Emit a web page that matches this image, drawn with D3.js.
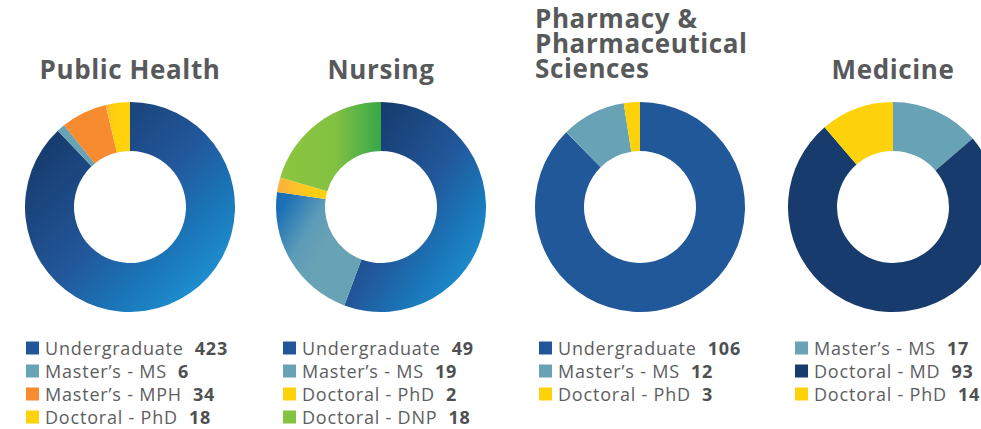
<!DOCTYPE html>
<html>
<head>
<meta charset="utf-8">
<script src="https://cdn.jsdelivr.net/npm/d3@7"></script>
<style>
  body { margin: 0; background: #fff; }
  svg { display: block; font-family: "Open Sans", sans-serif; }
</style>
</head>
<body>
<div id="chart"></div>
<script>
// data
const publicHealthLabels = ["Undergraduate", "Master\u2019s - MS", "Master\u2019s - MPH", "Doctoral - PhD"];
const publicHealthValues = [423, 6, 34, 18];

const nursingLabels = ["Undergraduate", "Master\u2019s - MS", "Doctoral - PhD", "Doctoral - DNP"];
const nursingValues = [49, 19, 2, 18];

const pharmacyLabels = ["Undergraduate", "Master\u2019s - MS", "Doctoral - PhD"];
const pharmacyValues = [106, 12, 3];

const medicineLabels = ["Master\u2019s - MS", "Doctoral - MD", "Doctoral - PhD"];
const medicineValues = [17, 93, 14];

const schoolTitles = [["Public Health"], ["Nursing"], ["Pharmacy &", "Pharmaceutical", "Sciences"], ["Medicine"]];

// colours used for the legend squares
const colorFor = {
    "Undergraduate": "#21579a",
    "Master\u2019s - MS": "#68a2b5",
    "Master\u2019s - MPH": "#f68b2f",
    "Doctoral - PhD": "#fdd20a",
    "Doctoral - DNP": "#84c341",
    "Doctoral - MD": "#173b6c"
};

const width = 981, height = 429;

let svg = d3.select("#chart").append("svg")
    .attr("width", width)
    .attr("height", height);

let defs = svg.append("defs");

// gradients for the fancier slices
function addGradient(id, x1, y1, x2, y2, stops) {
    let g = defs.append("linearGradient")
        .attr("id", id)
        .attr("x1", x1).attr("y1", y1)
        .attr("x2", x2).attr("y2", y2);
    stops.forEach(s => g.append("stop").attr("offset", s[0]).attr("stop-color", s[1]));
}
addGradient("blueGrad", 0.15, 0.1, 0.9, 0.85, [[0, "#163a6b"], [0.5, "#22579a"], [0.75, "#1a74b6"], [1, "#1e90d2"]]);
addGradient("tealGrad", 0, 0.2, 0.5, 0.6, [[0, "#1a6fb6"], [0.6, "#5d9cb8"], [1, "#68a2b5"]]);
addGradient("greenGrad", 0, 0, 1, 0, [[0, "#8dc63f"], [0.55, "#82c142"], [1, "#36a84a"]]);
addGradient("orangeGrad", 0, 0, 1, 0, [[0, "#fbb040"], [0.6, "#fdcb1a"], [1, "#ffd20a"]]);
addGradient("yellowGrad", 0, 0, 1, 0, [[0, "#fdb934"], [0.35, "#fed10c"], [1, "#ffd20a"]]);

const charts = [
    {labels: publicHealthLabels, values: publicHealthValues, cx: 130,
     fills: ["url(#blueGrad)", "#68a2b5", "#f68b2f", "url(#yellowGrad)"], legendX: 26},
    {labels: nursingLabels, values: nursingValues, cx: 381,
     fills: ["url(#blueGrad)", "url(#tealGrad)", "url(#orangeGrad)", "url(#greenGrad)"], legendX: 283},
    {labels: pharmacyLabels, values: pharmacyValues, cx: 640,
     fills: ["#21589a", "#68a2b5", "#fdd20a"], legendX: 539},
    {labels: medicineLabels, values: medicineValues, cx: 893,
     fills: ["#68a2b5", "#173b6c", "#fdd20a"], legendX: 795}
];

const cy = 207, outerR = 105, innerR = 56;

let pie = d3.pie().sort(null).value(d => d);
let arc = d3.arc().innerRadius(innerR).outerRadius(outerR);

charts.forEach((c, i) => {
    let g = svg.append("g").attr("transform", `translate(${c.cx},${cy})`);

    g.selectAll("path")
        .data(pie(c.values))
        .enter()
        .append("path")
        .attr("d", arc)
        .attr("fill", (d, j) => c.fills[j]);

    // title - one text per line so they stay apart
    let lines = schoolTitles[i];
    lines.forEach((t, k) => {
        let title = svg.append("text")
            .attr("font-size", "26px")
            .attr("font-weight", "bold")
            .attr("letter-spacing", "0.6px")
            .attr("fill", "#58595b")
            .text(t);
        if (lines.length === 1) {
            title.attr("x", c.cx).attr("y", 79).attr("text-anchor", "middle");
        } else {
            title.attr("x", 535).attr("y", 28 + k * 25);
        }
    });

    // legend
    let leg = svg.append("g").attr("transform", `translate(${c.legendX},0)`);
    c.labels.forEach((lab, k) => {
        let y = 348 + k * 23;
        leg.append("rect")
            .attr("x", 0).attr("y", y - 6.5)
            .attr("width", 13).attr("height", 13)
            .attr("fill", colorFor[lab]);
        let t = leg.append("text")
            .attr("x", 19).attr("y", y + 6.5)
            .attr("font-size", "18px")
            .attr("letter-spacing", "0.8px")
            .attr("fill", "#5d5e60");
        t.append("tspan").text(lab);
        t.append("tspan").attr("dx", 11).attr("font-weight", "bold").attr("fill", "#4f5052").text(c.values[k]);
    });
});
</script>
</body>
</html>
